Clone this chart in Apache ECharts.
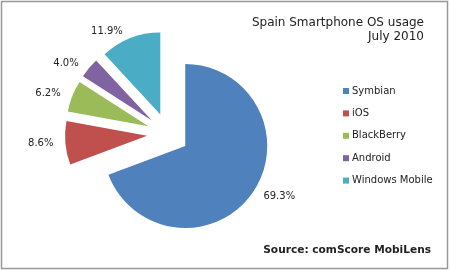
<!DOCTYPE html>
<html>
<head>
<meta charset="utf-8">
<script src="https://cdn.jsdelivr.net/npm/echarts@6/dist/echarts.min.js"></script>
<style>html,body{margin:0;padding:0;background:#fff;}#c{width:450px;height:271px;}</style>
</head>
<body>
<div id="c"></div>
<script>
const categories = ['Symbian', 'iOS', 'BlackBerry', 'Android', 'Windows Mobile'];
const shares = [69.3, 8.6, 6.2, 4.0, 11.9];
const colors = ['#4F81BD', '#C0504D', '#9BBB59', '#8064A2', '#4BACC6'];
const titleLines = ['Spain Smartphone OS usage', 'July 2010'];
const sourceText = 'Source: comScore MobiLens';

const FONT = 'DejaVu Sans';
const chart = echarts.init(document.getElementById('c'), null, {renderer: 'canvas'});
chart.setOption({
  animation: false,
  backgroundColor: '#fff',
  title: [
    {text: titleLines.join('\n'), left: 424, top: 16, textAlign: 'right', padding: 0,
     textStyle: {fontFamily: FONT, fontSize: 12, fontWeight: 'normal', color: '#222', lineHeight: 14, align: 'right'}},
    {text: sourceText, left: 431, top: 245, textAlign: 'right', padding: 0,
     textStyle: {fontFamily: FONT, fontSize: 10.6, fontWeight: 'bold', color: '#222'}}
  ],
  legend: {
    orient: 'vertical', left: 338, top: 81,
    icon: 'rect', itemWidth: 6, itemHeight: 6, itemGap: 12.4,
    selectedMode: false,
    textStyle: {fontFamily: FONT, fontSize: 10, color: '#222', padding: [0, 0, 0, -2]},
    data: categories
  },
  graphic: [{
    type: 'rect', shape: {x: 1.5, y: 1.5, width: 446, height: 267},
    style: {fill: 'none', stroke: '#999', lineWidth: 1.5}, silent: true
  }],
  series: [{
    type: 'pie',
    center: [168, 134],
    radius: 82,
    startAngle: 90,
    clockwise: true,
    selectedMode: 'multiple',
    selectedOffset: 21,
    avoidLabelOverlap: false,
    emphasis: {disabled: true},
    label: {
      show: true, position: 'outside',
      fontFamily: FONT, fontSize: 10, color: '#222',
      formatter: p => p.value.toFixed(1) + '%'
    },
    labelLine: {show: false, length: 7, length2: 0},
    data: categories.map((n, i) => ({name: n, value: shares[i], selected: true, itemStyle: {color: colors[i]}}))
  }]
});
</script>
</body>
</html>
